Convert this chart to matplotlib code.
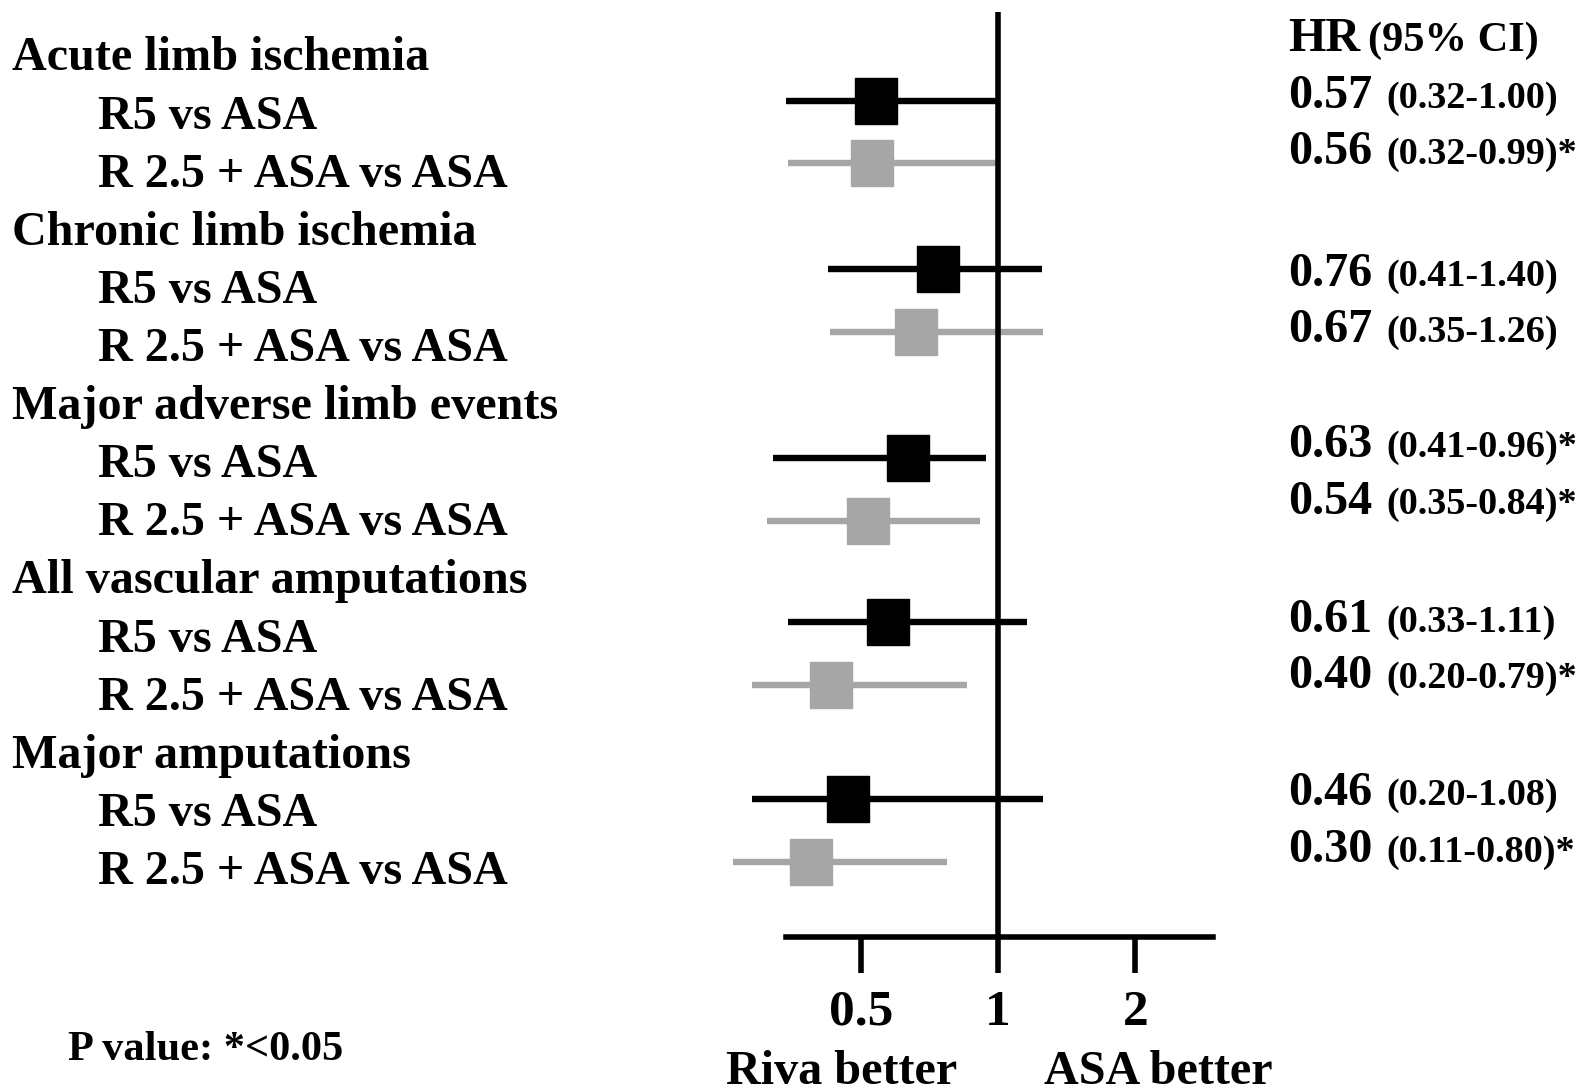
import matplotlib
matplotlib.use("Agg")
import matplotlib.pyplot as plt

# outcomes and comparisons
outcomes = ["Acute limb ischemia", "Chronic limb ischemia", "Major adverse limb events",
            "All vascular amputations", "Major amputations"]
comparisons = ["R5 vs ASA", "R 2.5 + ASA vs ASA"]

# reported values (right-hand column)
hr_text = ["0.57", "0.56", "0.76", "0.67", "0.63", "0.54", "0.61", "0.40", "0.46", "0.30"]
ci_text = ["(0.32-1.00)", "(0.32-0.99)*", "(0.41-1.40)", "(0.35-1.26)", "(0.41-0.96)*",
           "(0.35-0.84)*", "(0.33-1.11)", "(0.20-0.79)*", "(0.20-1.08)", "(0.11-0.80)*"]

# where the marks sit on the drawn axis (read off the figure, not the reported numbers)
hr_drawn = [0.54, 0.53, 0.74, 0.66, 0.635, 0.52, 0.575, 0.43, 0.47, 0.39]
lo_drawn = [0.343, 0.347, 0.424, 0.429, 0.322, 0.312, 0.347, 0.289, 0.289, 0.263]
hi_drawn = [1.0, 1.0, 1.248, 1.255, 0.941, 0.913, 1.157, 0.855, 1.255, 0.773]

ticks = [0.5, 1, 2]
tick_labels = ["0.5", "1", "2"]

# ---- layout (pixels of the 1578x1091 canvas) ----
W, H = 1578, 1091
row_y = [101, 163, 269, 332, 458, 521, 622, 685, 799, 862]
txt_y = [108, 164, 286, 342, 457, 514, 632, 688, 805, 862]
line_base = 70.5
line_step = 58.1
big = 34.7

def fx(px):
    return px / W

def fy(py):
    return 1 - py / H

plt.rcParams['font.family'] = ['Liberation Serif', 'DejaVu Serif']
plt.rcParams['font.weight'] = 'bold'

fig = plt.figure(figsize=(W / 100, H / 100), dpi=100)

ax = fig.add_axes([fx(786), fy(937), fx(1213) - fx(786), fy(12) - fy(937)])
ax.set_xscale('log', base=2)
ax.set_xlim(0.343, 2.957)
ax.set_ylim(937, 12)

colors = ['black', '#a6a6a6'] * 5
for i in range(len(hr_drawn)):
    ax.plot([lo_drawn[i], hi_drawn[i]], [row_y[i], row_y[i]], color=colors[i],
            lw=4.6, solid_capstyle='butt', clip_on=False, zorder=2)
ax.axvline(1, color='black', lw=4, zorder=3)
rect = [(-0.45, -0.5), (0.45, -0.5), (0.45, 0.5), (-0.45, 0.5), (-0.45, -0.5)]
for i in range(len(hr_drawn)):
    ax.plot(hr_drawn[i], row_y[i], marker=rect, ms=33, color=colors[i],
            mec=colors[i], clip_on=False, zorder=4)

for s in ['top', 'left', 'right']:
    ax.spines[s].set_visible(False)
ax.spines['bottom'].set_linewidth(4)
ax.set_yticks([])
ax.set_xticks(ticks)
ax.set_xticklabels(tick_labels, fontsize=37, fontweight='bold')
ax.xaxis.set_minor_locator(matplotlib.ticker.NullLocator())
ax.tick_params(axis='x', length=26, width=4, pad=12)

# left labels
for j, name in enumerate(outcomes):
    fig.text(fx(12), fy(line_base + line_step * (3 * j)), name, fontsize=big,
             fontweight='bold', va='baseline')
    for c, comp in enumerate(comparisons):
        fig.text(fx(98), fy(line_base + line_step * (3 * j + 1 + c)), comp, fontsize=big,
                 fontweight='bold', va='baseline')

# right column
fig.text(fx(1288), fy(51), "HR", fontsize=big, fontweight='bold', va='baseline')
fig.text(fx(1368), fy(51), "(95% CI)", fontsize=30.5, fontweight='bold', va='baseline')
for i in range(len(hr_text)):
    fig.text(fx(1288), fy(txt_y[i]), hr_text[i], fontsize=big, fontweight='bold', va='baseline')
    fig.text(fx(1386), fy(txt_y[i]), ci_text[i], fontsize=27.5, fontweight='bold', va='baseline')

fig.text(fx(68), fy(1060), "P value: *<0.05", fontsize=30.5, fontweight='bold', va='baseline')
fig.text(fx(842), fy(1084), "Riva better", fontsize=big, fontweight='bold', va='baseline', ha='center')
fig.text(fx(1158), fy(1084), "ASA better", fontsize=big, fontweight='bold', va='baseline', ha='center')

fig.savefig("out.png", dpi=100)
